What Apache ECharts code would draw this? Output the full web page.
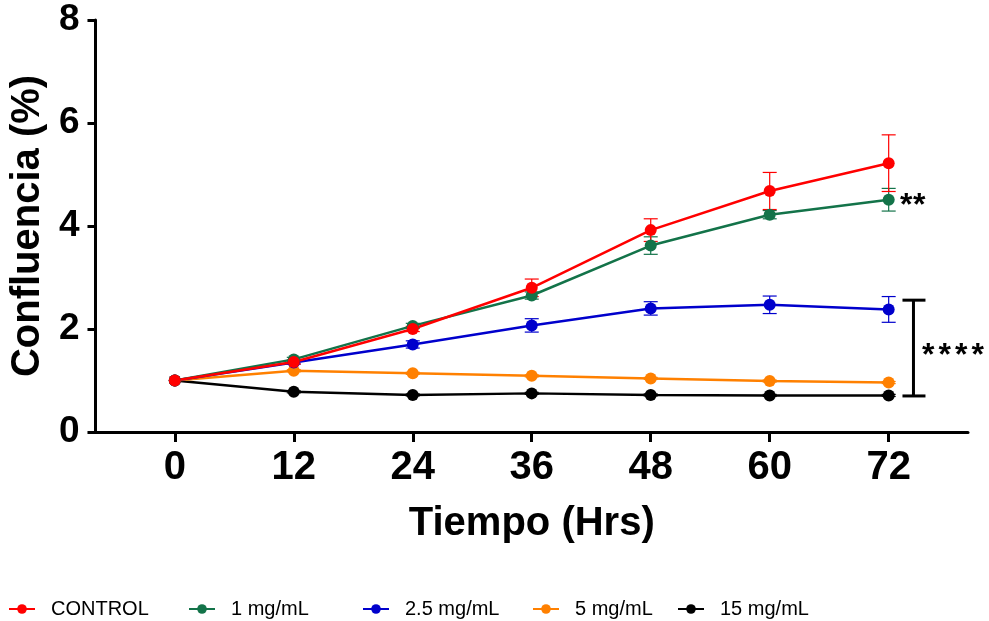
<!DOCTYPE html>
<html>
<head>
<meta charset="utf-8">
<script src="https://cdn.jsdelivr.net/npm/echarts@6/dist/echarts.min.js"></script>
<style>html,body{margin:0;padding:0;background:#fff}#chart{width:989px;height:621px}</style>
</head>
<body>
<div id="chart"></div>
<script>
var hours = [0, 12, 24, 36, 48, 60, 72];
var yTicks = [0, 2, 4, 6, 8];

var groupNames = ['CONTROL', '1 mg/mL', '2.5 mg/mL', '5 mg/mL', '15 mg/mL'];
var groupColors = ['#ff0000', '#137349', '#0000cc', '#ff8000', '#000000'];

var control    = [1.00, 1.36, 2.00, 2.80, 3.92, 4.68, 5.22];
var controlErr = [0, 0.04, 0.05, 0.17, 0.22, 0.36, 0.55];
var dose1      = [1.00, 1.41, 2.06, 2.65, 3.62, 4.22, 4.51];
var dose1Err   = [0, 0.04, 0.05, 0.07, 0.17, 0.08, 0.22];
var dose25     = [1.00, 1.35, 1.70, 2.07, 2.40, 2.47, 2.38];
var dose25Err  = [0, 0.03, 0.07, 0.13, 0.13, 0.17, 0.25];
var dose5      = [1.00, 1.19, 1.14, 1.09, 1.04, 0.99, 0.96];
var dose5Err   = [0, 0.02, 0.02, 0.02, 0.02, 0.02, 0.02];
var dose15     = [1.00, 0.78, 0.72, 0.75, 0.72, 0.71, 0.71];
var dose15Err  = [0, 0.02, 0.02, 0.02, 0.02, 0.02, 0.02];

var allMeans = [control, dose1, dose25, dose5, dose15];
var allErrs = [controlErr, dose1Err, dose25Err, dose5Err, dose15Err];

// significance marks
var bracketX = 74.5;
var bracketRange = [0.70, 2.56];
var starsLow = { x: 75.35, y: 1.48, count: 4 };
var starsHigh = { x: 73.15, y: 4.38, count: 2 };

var legendLefts = [8, 188, 362, 532, 677];

var dom = document.getElementById('chart');
var myChart = echarts.init(dom);

var lineSeries = [];
var errSeries = [];
var legends = [];
for (var g = groupNames.length - 1; g >= 0; g--) {
    (function (g) {
        var pts = hours.map(function (h, i) { return [h, allMeans[g][i], allErrs[g][i]]; });
        lineSeries.push({
            name: groupNames[g],
            type: 'line',
            data: pts.map(function (p) { return [p[0], p[1]]; }),
            z: 3,
            symbol: 'circle',
            symbolSize: 12,
            lineStyle: { width: 2.5, color: groupColors[g] },
            itemStyle: { color: groupColors[g] }
        });
        errSeries.push({
            name: groupNames[g] + ' SEM',
            type: 'custom',
            data: pts,
            z: 2,
            silent: true,
            itemStyle: { color: groupColors[g] },
            renderItem: function (params, api) {
                var x = api.value(0), m = api.value(1), e = api.value(2);
                if (!e) return;
                var top = api.coord([x, m + e]);
                var bot = api.coord([x, m - e]);
                var st = { stroke: groupColors[g], lineWidth: 1.2 };
                return {
                    type: 'group',
                    children: [
                        { type: 'line', shape: { x1: top[0], y1: top[1], x2: bot[0], y2: bot[1] }, style: st },
                        { type: 'line', shape: { x1: top[0] - 7, y1: top[1], x2: top[0] + 7, y2: top[1] }, style: st },
                        { type: 'line', shape: { x1: bot[0] - 7, y1: bot[1], x2: bot[0] + 7, y2: bot[1] }, style: st }
                    ]
                };
            }
        });
    })(g);
}
var series = errSeries.concat(lineSeries);

groupNames.forEach(function (n, g) {
    legends.push({
        data: [n],
        left: legendLefts[g],
        top: 599,
        padding: 0,
        itemWidth: 26,
        itemHeight: 12,
        textStyle: { fontFamily: 'Liberation Sans', fontSize: 20, color: '#000', padding: [0, 0, 0, 11] }
    });
});

series.push({
    type: 'custom',
    silent: true,
    z: 4,
    data: [[bracketX, bracketRange[0], bracketRange[1]]],
    renderItem: function (params, api) {
        var a = api.coord([api.value(0), api.value(2)]);
        var b = api.coord([api.value(0), api.value(1)]);
        var st = { stroke: '#000', lineWidth: 3 };
        return {
            type: 'group',
            children: [
                { type: 'line', shape: { x1: a[0], y1: a[1], x2: b[0], y2: b[1] }, style: st },
                { type: 'line', shape: { x1: a[0] - 11, y1: a[1], x2: a[0] + 12, y2: a[1] }, style: st },
                { type: 'line', shape: { x1: b[0] - 11, y1: b[1], x2: b[0] + 12, y2: b[1] }, style: st }
            ]
        };
    }
});
series.push({
    type: 'custom',
    silent: true,
    z: 4,
    data: [[starsLow.x, starsLow.y, starsLow.count, 16.5], [starsHigh.x, starsHigh.y, starsHigh.count, 13]],
    renderItem: function (params, api) {
        var p = api.coord([api.value(0), api.value(1)]);
        var n = api.value(2), step = api.value(3);
        var kids = [];
        for (var k = 0; k < n; k++) {
            kids.push({
                type: 'text',
                x: p[0] + k * step, y: p[1],
                style: {
                    text: '*',
                    fill: '#000',
                    font: 'bold 32px "Liberation Sans"',
                    align: 'left',
                    verticalAlign: 'middle'
                }
            });
        }
        return { type: 'group', children: kids };
    }
});

var option = {
    backgroundColor: '#fff',
    animation: false,
    legend: legends,
    grid: { left: 93, right: 21, top: 20, bottom: 189 },
    xAxis: {
        type: 'value',
        min: -8,
        max: 80,
        name: 'Tiempo (Hrs)',
        nameLocation: 'middle',
        nameGap: 72,
        nameTextStyle: { fontFamily: 'Liberation Sans', fontWeight: 'bold', fontSize: 40, color: '#000' },
        splitLine: { show: false },
        axisLine: { lineStyle: { color: '#000', width: 3 } },
        axisTick: { customValues: hours, length: 10, lineStyle: { color: '#000', width: 3 } },
        axisLabel: { customValues: hours, margin: 16, fontFamily: 'Liberation Sans', fontWeight: 'bold', fontSize: 40, color: '#000' }
    },
    yAxis: {
        type: 'value',
        min: 0,
        max: 8,
        interval: 2,
        name: 'Confluencia (%)',
        nameLocation: 'middle',
        nameGap: 46,
        nameTextStyle: { fontFamily: 'Liberation Sans', fontWeight: 'bold', fontSize: 40, color: '#000' },
        splitLine: { show: false },
        axisLine: { onZero: false, lineStyle: { color: '#000', width: 3 } },
        axisTick: { length: 8, lineStyle: { color: '#000', width: 3 } },
        axisLabel: { margin: 16, fontFamily: 'Liberation Sans', fontWeight: 'bold', fontSize: 37, color: '#000' }
    },
    series: series
};

if (option && typeof option === 'object') {
    myChart.setOption(option, false);
}
</script>
</body>
</html>
